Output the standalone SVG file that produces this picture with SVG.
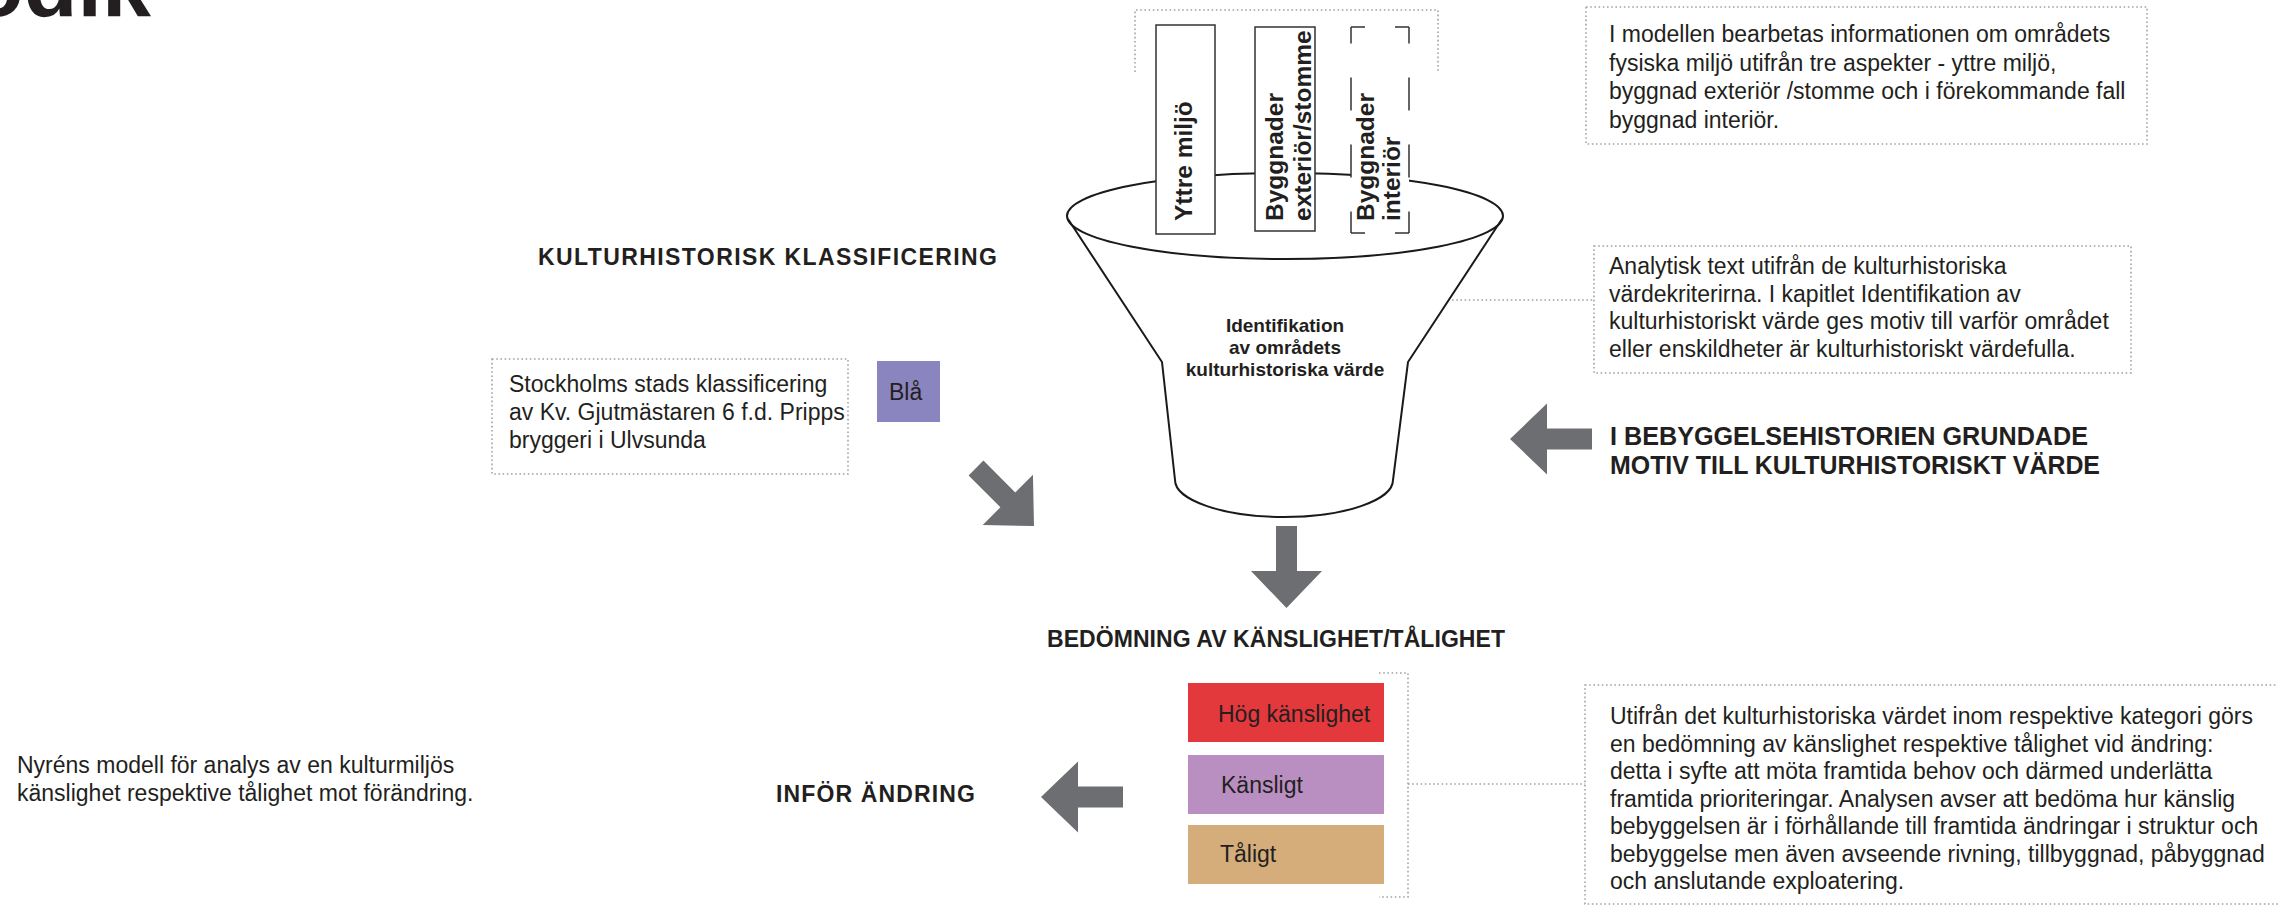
<svg xmlns="http://www.w3.org/2000/svg" xmlns:xlink="http://www.w3.org/1999/xlink" width="2278" height="906" viewBox="0 0 2278 906">
<style>
.t{font-family:"Liberation Sans",Arial,Helvetica,sans-serif;fill:#231f20}
.body{font-size:23px}
.b{font-weight:bold}
.dot{fill:none;stroke:#a3a3a3;stroke-width:1.6;stroke-dasharray:1.6 2.6}
.arrow{fill:#6d6e71}
.ln{fill:none;stroke:#1a1a1a;stroke-width:2}
.vbox{fill:#ffffff;stroke:#333333;stroke-width:1.5}
.dash{fill:none;stroke:#333333;stroke-width:1.5;stroke-dasharray:33 34;stroke-dashoffset:16.5}
.vt{font-size:24.5px;font-weight:bold}
</style>
<defs>
<path id="arr" d="M-10.5,-82 H10.5 V-37 H35.5 L0,0 L-35.5,-37 H-10.5 Z"/>
</defs>
<rect width="2278" height="906" fill="#ffffff"/>

<g id="title">
<text class="t b" x="151" y="16" font-size="88" text-anchor="end">Metodik</text>
</g>

<g id="connectors">
<path class="dot" d="M1135,72 V10 H1438 V72"/>
<path class="dot" d="M1452,300 H1594"/>
<path class="dot" d="M1379,673 H1408 V897 H1379"/>
<path class="dot" d="M1408,784 H1585"/>
<use href="#arr" class="arrow" transform="translate(1286.5,608)"/>
<use href="#arr" class="arrow" transform="translate(1034,526) rotate(-45)"/>
<use href="#arr" class="arrow" transform="translate(1041,797) rotate(90)"/>
<use href="#arr" class="arrow" transform="translate(1510,439) rotate(90)"/>
</g>

<g id="funnel">
<ellipse class="ln" cx="1285" cy="216" rx="218" ry="43"/>
<path class="ln" d="M1068,219 L1162,362 L1175,480 A109,37 0 0 0 1393,480 L1408,362 L1502,219"/>
<text class="t b" font-size="19" text-anchor="middle"><tspan x="1285" y="332">Identifikation</tspan><tspan x="1285" y="354">av områdets</tspan><tspan x="1285" y="376">kulturhistoriska värde</tspan></text>
</g>

<g id="box-yttre">
<rect class="vbox" x="1156" y="25" width="59" height="209"/>
<text class="t vt" transform="translate(1192,221) rotate(-90)">Yttre miljö</text>
</g>
<g id="box-exterior">
<rect class="vbox" x="1255" y="27" width="60" height="204"/>
<text class="t vt" transform="translate(1283,221) rotate(-90)">Byggnader</text>
<text class="t vt" transform="translate(1311,221) rotate(-90)">exteriör/stomme</text>
</g>
<g id="box-interior">
<rect x="1351" y="27" width="58" height="206" fill="#ffffff"/>
<path class="dash" d="M1351,27 H1409" style="stroke-dasharray:14 30;stroke-dashoffset:0"/>
<path class="dash" d="M1351,233 H1409" style="stroke-dasharray:14 30;stroke-dashoffset:0"/>
<path class="dash" d="M1351,27 V233"/>
<path class="dash" d="M1409,27 V233"/>
<text class="t vt" transform="translate(1374,221) rotate(-90)">Byggnader</text>
<text class="t vt" transform="translate(1400,221) rotate(-90)">interiör</text>
</g>

<g id="note-aspekter">
<rect class="dot" x="1586" y="7" width="561" height="137"/>
<text class="t body"><tspan x="1609" y="42">I modellen bearbetas informationen om områdets</tspan><tspan x="1609" y="70.5">fysiska miljö utifrån tre aspekter - yttre miljö,</tspan><tspan x="1609" y="99">byggnad exteriör /stomme och i förekommande fall</tspan><tspan x="1609" y="127.5">byggnad interiör.</tspan></text>
</g>

<g id="note-analytisk">
<rect class="dot" x="1594" y="246" width="537" height="127"/>
<text class="t body"><tspan x="1609" y="274">Analytisk text utifrån de kulturhistoriska</tspan><tspan x="1609" y="301.5">värdekriterirna. I kapitlet Identifikation av</tspan><tspan x="1609" y="329">kulturhistoriskt värde ges motiv till varför området</tspan><tspan x="1609" y="356.5">eller enskildheter är kulturhistoriskt värdefulla.</tspan></text>
</g>

<g id="label-bebyggelse">
<text class="t b" font-size="25" x="1610" y="445" textLength="478" lengthAdjust="spacingAndGlyphs">I BEBYGGELSEHISTORIEN GRUNDADE</text>
<text class="t b" font-size="25" x="1610" y="474" textLength="490" lengthAdjust="spacingAndGlyphs">MOTIV TILL KULTURHISTORISKT VÄRDE</text>
</g>

<g id="label-klassificering">
<text class="t b" font-size="23" x="538" y="265" textLength="459" lengthAdjust="spacing">KULTURHISTORISK KLASSIFICERING</text>
</g>

<g id="note-stockholm">
<rect class="dot" x="492" y="359" width="356" height="115"/>
<text class="t body"><tspan x="509" y="392">Stockholms stads klassificering</tspan><tspan x="509" y="420">av Kv. Gjutmästaren 6 f.d. Pripps</tspan><tspan x="509" y="448">bryggeri i Ulvsunda</tspan></text>
</g>

<g id="bla">
<rect x="877" y="361" width="63" height="61" fill="#8a84bf"/>
<text class="t body" x="889" y="400">Blå</text>
</g>

<g id="label-bedomning">
<text class="t b" font-size="23" x="1047" y="647" textLength="458" lengthAdjust="spacing">BEDÖMNING AV KÄNSLIGHET/TÅLIGHET</text>
</g>

<g id="hog">
<rect x="1188" y="683" width="196" height="59" fill="#e4393c"/>
<text class="t body" x="1218" y="722">Hög känslighet</text>
</g>
<g id="kansligt">
<rect x="1188" y="755" width="196" height="59" fill="#b98fc2"/>
<text class="t body" x="1221" y="793">Känsligt</text>
</g>
<g id="taligt">
<rect x="1188" y="825" width="196" height="59" fill="#d4ad7b"/>
<text class="t body" x="1220" y="862">Tåligt</text>
</g>

<g id="label-infor">
<text class="t b" font-size="23" x="776" y="802" textLength="199" lengthAdjust="spacing">INFÖR ÄNDRING</text>
</g>

<g id="note-bedomning">
<rect class="dot" x="1585" y="685" width="720" height="219"/>
<text class="t body"><tspan x="1610" y="724">Utifrån det kulturhistoriska värdet inom respektive kategori görs</tspan><tspan x="1610" y="751.5">en bedömning av känslighet respektive tålighet vid ändring:</tspan><tspan x="1610" y="779">detta i syfte att möta framtida behov och därmed underlätta</tspan><tspan x="1610" y="806.5">framtida prioriteringar. Analysen avser att bedöma hur känslig</tspan><tspan x="1610" y="834">bebyggelsen är i förhållande till framtida ändringar i struktur och</tspan><tspan x="1610" y="861.5">bebyggelse men även avseende rivning, tillbyggnad, påbyggnad</tspan><tspan x="1610" y="889">och anslutande exploatering.</tspan></text>
</g>

<g id="caption">
<text class="t body"><tspan x="17" y="773">Nyréns modell för analys av en kulturmiljös</tspan><tspan x="17" y="801">känslighet respektive tålighet mot förändring.</tspan></text>
</g>
</svg>
